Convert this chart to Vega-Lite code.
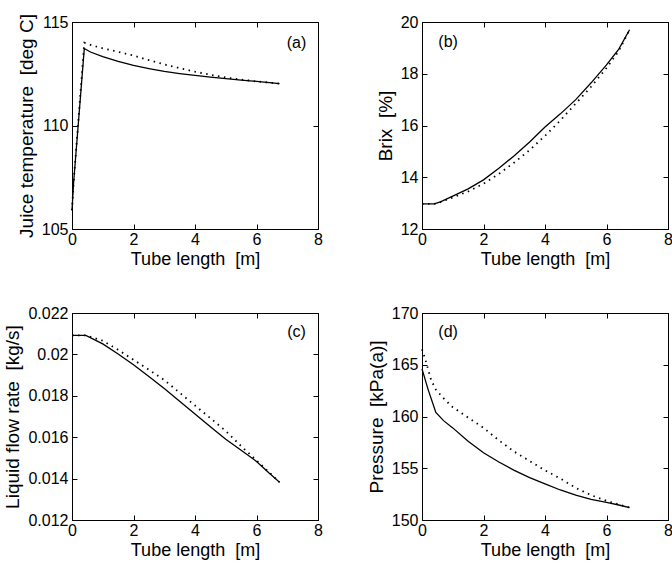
{
  "$schema": "https://vega.github.io/schema/vega-lite/v6.json",
  "background": "white",
  "padding": {"left": 3, "top": 13, "right": 0, "bottom": 0},
  "config": {
    "font": "Liberation Sans",
    "view": {"stroke": "black", "strokeWidth": 1},
    "axis": {
      "grid": false,
      "domainColor": "black",
      "domainWidth": 1,
      "tickColor": "black",
      "tickSize": -5,
      "tickWidth": 1,
      "labelColor": "black",
      "titleColor": "black",
      "labelFont": "Liberation Sans",
      "titleFont": "Liberation Sans",
      "labelFontSize": 16,
      "titleFontSize": 18,
      "titleFontWeight": "normal",
      "labelFlush": false,
      "labelOverlap": false
    },
    "axisX": {"labelPadding": 7, "titlePadding": 3},
    "axisY": {"labelPadding": 9, "titlePadding": 5, "titleFontSize": 19}
  },
  "datasets": {
    "a": [
      {"x": 0, "y": 105.9, "s": "solid"}, {"x": 0.05, "y": 107.2, "s": "solid"}, {"x": 0.4, "y": 113.72, "s": "solid"},
      {"x": 0.6, "y": 113.55, "s": "solid"}, {"x": 1, "y": 113.33, "s": "solid"}, {"x": 1.5, "y": 113.1, "s": "solid"},
      {"x": 2, "y": 112.9, "s": "solid"}, {"x": 2.5, "y": 112.75, "s": "solid"}, {"x": 3, "y": 112.61, "s": "solid"},
      {"x": 3.5, "y": 112.51, "s": "solid"}, {"x": 4, "y": 112.42, "s": "solid"}, {"x": 4.5, "y": 112.34, "s": "solid"},
      {"x": 5, "y": 112.26, "s": "solid"}, {"x": 5.5, "y": 112.19, "s": "solid"}, {"x": 6, "y": 112.13, "s": "solid"},
      {"x": 6.5, "y": 112.06, "s": "solid"}, {"x": 6.75, "y": 112.02, "s": "solid"},
      {"x": 0, "y": 105.9, "s": "dotted"}, {"x": 0.05, "y": 107.2, "s": "dotted"}, {"x": 0.4, "y": 114.0, "s": "dotted"},
      {"x": 0.7, "y": 113.85, "s": "dotted"}, {"x": 1, "y": 113.73, "s": "dotted"}, {"x": 1.5, "y": 113.56, "s": "dotted"},
      {"x": 2, "y": 113.38, "s": "dotted"}, {"x": 2.5, "y": 113.16, "s": "dotted"}, {"x": 3, "y": 112.95, "s": "dotted"},
      {"x": 3.5, "y": 112.77, "s": "dotted"}, {"x": 4, "y": 112.6, "s": "dotted"}, {"x": 4.5, "y": 112.45, "s": "dotted"},
      {"x": 5, "y": 112.32, "s": "dotted"}, {"x": 5.5, "y": 112.22, "s": "dotted"}, {"x": 6, "y": 112.13, "s": "dotted"},
      {"x": 6.5, "y": 112.06, "s": "dotted"}, {"x": 6.75, "y": 112.02, "s": "dotted"}
    ],
    "b": [
      {"x": 0, "y": 12.97, "s": "solid"}, {"x": 0.4, "y": 12.97, "s": "solid"}, {"x": 0.6, "y": 13.05, "s": "solid"},
      {"x": 1, "y": 13.27, "s": "solid"}, {"x": 1.5, "y": 13.55, "s": "solid"}, {"x": 2, "y": 13.9, "s": "solid"},
      {"x": 2.5, "y": 14.35, "s": "solid"}, {"x": 3, "y": 14.83, "s": "solid"}, {"x": 3.5, "y": 15.36, "s": "solid"},
      {"x": 4, "y": 15.94, "s": "solid"}, {"x": 4.5, "y": 16.45, "s": "solid"}, {"x": 5, "y": 17.0, "s": "solid"},
      {"x": 5.5, "y": 17.65, "s": "solid"}, {"x": 6, "y": 18.34, "s": "solid"}, {"x": 6.4, "y": 18.95, "s": "solid"},
      {"x": 6.75, "y": 19.7, "s": "solid"},
      {"x": 0, "y": 12.97, "s": "dotted"}, {"x": 0.4, "y": 12.97, "s": "dotted"}, {"x": 0.6, "y": 13.04, "s": "dotted"},
      {"x": 1, "y": 13.22, "s": "dotted"}, {"x": 1.5, "y": 13.45, "s": "dotted"}, {"x": 2, "y": 13.75, "s": "dotted"},
      {"x": 2.5, "y": 14.13, "s": "dotted"}, {"x": 3, "y": 14.57, "s": "dotted"}, {"x": 3.5, "y": 15.05, "s": "dotted"},
      {"x": 4, "y": 15.6, "s": "dotted"}, {"x": 4.5, "y": 16.2, "s": "dotted"}, {"x": 5, "y": 16.85, "s": "dotted"},
      {"x": 5.5, "y": 17.5, "s": "dotted"}, {"x": 6, "y": 18.22, "s": "dotted"}, {"x": 6.4, "y": 18.88, "s": "dotted"},
      {"x": 6.75, "y": 19.7, "s": "dotted"}
    ],
    "c": [
      {"x": 0, "y": 0.02092, "s": "solid"}, {"x": 0.45, "y": 0.02092, "s": "solid"}, {"x": 1, "y": 0.02051, "s": "solid"},
      {"x": 1.5, "y": 0.02002, "s": "solid"}, {"x": 2, "y": 0.0195, "s": "solid"}, {"x": 2.5, "y": 0.01893, "s": "solid"},
      {"x": 3, "y": 0.01835, "s": "solid"}, {"x": 3.5, "y": 0.01774, "s": "solid"}, {"x": 4, "y": 0.01712, "s": "solid"},
      {"x": 4.5, "y": 0.01651, "s": "solid"}, {"x": 5, "y": 0.0159, "s": "solid"}, {"x": 5.5, "y": 0.01537, "s": "solid"},
      {"x": 6, "y": 0.01483, "s": "solid"}, {"x": 6.4, "y": 0.01428, "s": "solid"}, {"x": 6.75, "y": 0.01382, "s": "solid"},
      {"x": 0, "y": 0.02092, "s": "dotted"}, {"x": 0.45, "y": 0.02092, "s": "dotted"}, {"x": 1, "y": 0.02066, "s": "dotted"},
      {"x": 1.5, "y": 0.02022, "s": "dotted"}, {"x": 2, "y": 0.01974, "s": "dotted"}, {"x": 2.5, "y": 0.01926, "s": "dotted"},
      {"x": 3, "y": 0.01876, "s": "dotted"}, {"x": 3.5, "y": 0.01815, "s": "dotted"}, {"x": 4, "y": 0.01753, "s": "dotted"},
      {"x": 4.5, "y": 0.01692, "s": "dotted"}, {"x": 5, "y": 0.0163, "s": "dotted"}, {"x": 5.5, "y": 0.01557, "s": "dotted"},
      {"x": 6, "y": 0.01488, "s": "dotted"}, {"x": 6.4, "y": 0.01432, "s": "dotted"}, {"x": 6.75, "y": 0.01382, "s": "dotted"}
    ],
    "d": [
      {"x": 0, "y": 164.6, "s": "solid"}, {"x": 0.2, "y": 162.6, "s": "solid"}, {"x": 0.45, "y": 160.4, "s": "solid"},
      {"x": 0.7, "y": 159.6, "s": "solid"}, {"x": 1, "y": 158.9, "s": "solid"}, {"x": 1.5, "y": 157.6, "s": "solid"},
      {"x": 2, "y": 156.5, "s": "solid"}, {"x": 2.5, "y": 155.6, "s": "solid"}, {"x": 3, "y": 154.8, "s": "solid"},
      {"x": 3.5, "y": 154.1, "s": "solid"}, {"x": 4, "y": 153.5, "s": "solid"}, {"x": 4.5, "y": 152.9, "s": "solid"},
      {"x": 5, "y": 152.4, "s": "solid"}, {"x": 5.5, "y": 152.0, "s": "solid"}, {"x": 6, "y": 151.7, "s": "solid"},
      {"x": 6.4, "y": 151.45, "s": "solid"}, {"x": 6.75, "y": 151.2, "s": "solid"},
      {"x": 0, "y": 166.5, "s": "dotted"}, {"x": 0.1, "y": 165.6, "s": "dotted"}, {"x": 0.3, "y": 163.5, "s": "dotted"},
      {"x": 0.45, "y": 162.6, "s": "dotted"}, {"x": 0.75, "y": 161.6, "s": "dotted"}, {"x": 1, "y": 160.9, "s": "dotted"},
      {"x": 1.5, "y": 159.9, "s": "dotted"}, {"x": 2, "y": 158.9, "s": "dotted"}, {"x": 2.5, "y": 157.7, "s": "dotted"},
      {"x": 3, "y": 156.6, "s": "dotted"}, {"x": 3.5, "y": 155.7, "s": "dotted"}, {"x": 4, "y": 154.8, "s": "dotted"},
      {"x": 4.5, "y": 154.0, "s": "dotted"}, {"x": 5, "y": 153.1, "s": "dotted"}, {"x": 5.5, "y": 152.4, "s": "dotted"},
      {"x": 6, "y": 151.85, "s": "dotted"}, {"x": 6.4, "y": 151.5, "s": "dotted"}, {"x": 6.75, "y": 151.2, "s": "dotted"}
    ],
    "labels": [
      {"p": "a", "label": "(a)", "x": 7.3, "y": 113.97},
      {"p": "b", "label": "(b)", "x": 0.85, "y": 19.23},
      {"p": "c", "label": "(c)", "x": 7.3, "y": 0.0211},
      {"p": "d", "label": "(d)", "x": 0.85, "y": 168.15}
    ]
  },
  "columns": 2,
  "spacing": {"row": 84, "column": 104},
  "bounds": "flush",
  "concat": [
    {
      "width": 246, "height": 207,
      "data": {"name": "a"},
      "layer": [
        {
          "transform": [{"filter": "datum.s === 'solid'"}],
          "mark": {"type": "line", "color": "black", "strokeWidth": 1.3},
          "encoding": {
            "x": {"field": "x", "type": "quantitative", "scale": {"domain": [0, 8]}, "axis": {"values": [0, 2, 4, 6, 8], "title": "Tube length\u00a0 [m]"}},
            "y": {"field": "y", "type": "quantitative", "scale": {"domain": [105, 115]}, "axis": {"values": [105, 110, 115], "title": "Juice temperature\u00a0 [deg C]"}}
          }
        },
        {
          "transform": [{"filter": "datum.s === 'dotted'"}],
          "mark": {"type": "line", "color": "black", "strokeWidth": 1.8, "strokeDash": [1.5, 4.5]},
          "encoding": {
            "x": {"field": "x", "type": "quantitative", "axis": {"orient": "top", "values": [0, 2, 4, 6, 8], "labels": false, "title": null}},
            "y": {"field": "y", "type": "quantitative", "axis": {"orient": "right", "values": [105, 110, 115], "labels": false, "title": null}}
          }
        },
        {
          "data": {"name": "labels"},
          "transform": [{"filter": "datum.p === 'a'"}],
          "mark": {"type": "text", "fontSize": 16, "font": "Liberation Sans", "color": "black"},
          "encoding": {
            "x": {"field": "x", "type": "quantitative", "axis": null},
            "y": {"field": "y", "type": "quantitative", "axis": null},
            "text": {"field": "label"}
          }
        }
      ],
      "resolve": {"axis": {"x": "independent", "y": "independent"}}
    },
    {
      "width": 246, "height": 207,
      "data": {"name": "b"},
      "layer": [
        {
          "transform": [{"filter": "datum.s === 'solid'"}],
          "mark": {"type": "line", "color": "black", "strokeWidth": 1.3},
          "encoding": {
            "x": {"field": "x", "type": "quantitative", "scale": {"domain": [0, 8]}, "axis": {"values": [0, 2, 4, 6, 8], "title": "Tube length\u00a0 [m]"}},
            "y": {"field": "y", "type": "quantitative", "scale": {"domain": [12, 20]}, "axis": {"values": [12, 14, 16, 18, 20], "title": "Brix\u00a0 [%]"}}
          }
        },
        {
          "transform": [{"filter": "datum.s === 'dotted'"}],
          "mark": {"type": "line", "color": "black", "strokeWidth": 1.8, "strokeDash": [1.5, 4.5]},
          "encoding": {
            "x": {"field": "x", "type": "quantitative", "axis": {"orient": "top", "values": [0, 2, 4, 6, 8], "labels": false, "title": null}},
            "y": {"field": "y", "type": "quantitative", "axis": {"orient": "right", "values": [12, 14, 16, 18, 20], "labels": false, "title": null}}
          }
        },
        {
          "data": {"name": "labels"},
          "transform": [{"filter": "datum.p === 'b'"}],
          "mark": {"type": "text", "fontSize": 16, "font": "Liberation Sans", "color": "black"},
          "encoding": {
            "x": {"field": "x", "type": "quantitative", "axis": null},
            "y": {"field": "y", "type": "quantitative", "axis": null},
            "text": {"field": "label"}
          }
        }
      ],
      "resolve": {"axis": {"x": "independent", "y": "independent"}}
    },
    {
      "width": 246, "height": 207,
      "data": {"name": "c"},
      "layer": [
        {
          "transform": [{"filter": "datum.s === 'solid'"}],
          "mark": {"type": "line", "color": "black", "strokeWidth": 1.3},
          "encoding": {
            "x": {"field": "x", "type": "quantitative", "scale": {"domain": [0, 8]}, "axis": {"values": [0, 2, 4, 6, 8], "title": "Tube length\u00a0 [m]"}},
            "y": {"field": "y", "type": "quantitative", "scale": {"domain": [0.012, 0.022]}, "axis": {"values": [0.012, 0.014, 0.016, 0.018, 0.02, 0.022], "format": "~g", "title": "Liquid flow rate\u00a0 [kg/s]"}}
          }
        },
        {
          "transform": [{"filter": "datum.s === 'dotted'"}],
          "mark": {"type": "line", "color": "black", "strokeWidth": 1.8, "strokeDash": [1.5, 4.5]},
          "encoding": {
            "x": {"field": "x", "type": "quantitative", "axis": {"orient": "top", "values": [0, 2, 4, 6, 8], "labels": false, "title": null}},
            "y": {"field": "y", "type": "quantitative", "axis": {"orient": "right", "values": [0.012, 0.014, 0.016, 0.018, 0.02, 0.022], "labels": false, "title": null}}
          }
        },
        {
          "data": {"name": "labels"},
          "transform": [{"filter": "datum.p === 'c'"}],
          "mark": {"type": "text", "fontSize": 16, "font": "Liberation Sans", "color": "black"},
          "encoding": {
            "x": {"field": "x", "type": "quantitative", "axis": null},
            "y": {"field": "y", "type": "quantitative", "axis": null},
            "text": {"field": "label"}
          }
        }
      ],
      "resolve": {"axis": {"x": "independent", "y": "independent"}}
    },
    {
      "width": 246, "height": 207,
      "data": {"name": "d"},
      "layer": [
        {
          "transform": [{"filter": "datum.s === 'solid'"}],
          "mark": {"type": "line", "color": "black", "strokeWidth": 1.3},
          "encoding": {
            "x": {"field": "x", "type": "quantitative", "scale": {"domain": [0, 8]}, "axis": {"values": [0, 2, 4, 6, 8], "title": "Tube length\u00a0 [m]"}},
            "y": {"field": "y", "type": "quantitative", "scale": {"domain": [150, 170]}, "axis": {"values": [150, 155, 160, 165, 170], "title": "Pressure\u00a0 [kPa(a)]"}}
          }
        },
        {
          "transform": [{"filter": "datum.s === 'dotted'"}],
          "mark": {"type": "line", "color": "black", "strokeWidth": 1.8, "strokeDash": [1.5, 4.5]},
          "encoding": {
            "x": {"field": "x", "type": "quantitative", "axis": {"orient": "top", "values": [0, 2, 4, 6, 8], "labels": false, "title": null}},
            "y": {"field": "y", "type": "quantitative", "axis": {"orient": "right", "values": [150, 155, 160, 165, 170], "labels": false, "title": null}}
          }
        },
        {
          "data": {"name": "labels"},
          "transform": [{"filter": "datum.p === 'd'"}],
          "mark": {"type": "text", "fontSize": 16, "font": "Liberation Sans", "color": "black"},
          "encoding": {
            "x": {"field": "x", "type": "quantitative", "axis": null},
            "y": {"field": "y", "type": "quantitative", "axis": null},
            "text": {"field": "label"}
          }
        }
      ],
      "resolve": {"axis": {"x": "independent", "y": "independent"}}
    }
  ]
}
